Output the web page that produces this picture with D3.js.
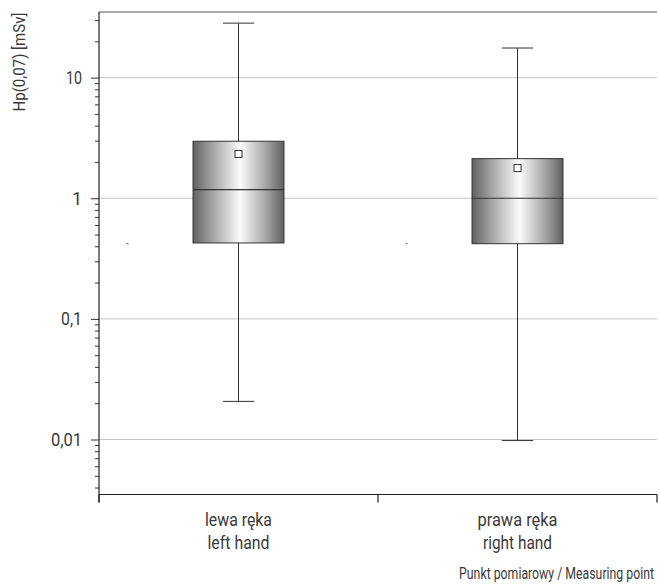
<!DOCTYPE html>
<html><head><meta charset="utf-8">
<script src="https://cdn.jsdelivr.net/npm/d3@7"></script>
<style>
html,body{margin:0;padding:0;background:#fff;}
svg text{font-family:Roboto,"Liberation Sans",sans-serif;font-weight:400;fill:#3a3a3a;}
</style></head>
<body>
<script>
const categories = ["lewa ręka|left hand", "prawa ręka|right hand"];
const whiskerLow  = [0.0207, 0.0098];
const q1          = [0.426, 0.42];
const median      = [1.18, 1.0];
const q3          = [2.97, 2.13];
const whiskerHigh = [28.3, 17.6];
const mean        = [2.33, 1.78];
const sideMarks   = [0.42, 0.42];
const majorTicks  = [0.01, 0.1, 1, 10];
const majorLabels = ["0,01", "0,1", "1", "10"];
const yTitle = "Hp(0,07) [mSv]";
const xTitle = "Punkt pomiarowy / Measuring point";

const W = 659, H = 587;
const L = 99, R = 657, T = 12, B = 494.5;

// text widths of the condensed face in the original (layout only)
const textWidth = {"0,01": 31, "0,1": 21, "10": 16, "lewa ręka": 67, "left hand": 62,
  "prawa ręka": 80, "right hand": 69};

const svg = d3.select("body").append("svg").attr("width", W).attr("height", H);

function condense(sel) {
  sel.each(function () {
    const w = textWidth[this.textContent];
    if (w) d3.select(this).attr("textLength", w).attr("lengthAdjust", "spacingAndGlyphs");
  });
}

const defs = svg.append("defs");
const grad = defs.append("linearGradient").attr("id", "boxGrad").attr("x1", "0").attr("x2", "1").attr("y1", "0").attr("y2", "0");
[[0, "#626262"], [0.2, "#a0a0a0"], [0.52, "#fbfbfb"], [0.8, "#a6a6a6"], [1, "#606060"]].forEach(([o, c]) =>
  grad.append("stop").attr("offset", o).attr("stop-color", c));

const y = d3.scaleLog().domain([0.0035, 35]).range([B, T]);
const x = d3.scaleBand().domain(categories).range([L, R]).padding(0);

const minor = [];
for (let e = -3; e <= 1; e++) for (let m = 2; m <= 9; m++) {
  const v = m * Math.pow(10, e);
  if (v >= 0.0035 && v <= 35) minor.push(v);
}

svg.append("g").selectAll("line").data(majorTicks).join("line")
  .attr("x1", L).attr("x2", R).attr("y1", d => y(d)).attr("y2", d => y(d))
  .attr("stroke", "#c4c4c4").attr("stroke-width", 1);

svg.append("line").attr("x1", L).attr("x2", R).attr("y1", T).attr("y2", T)
  .attr("stroke", "#555").attr("stroke-width", 1.2);

const gMinor = svg.append("g").attr("transform", `translate(${L},0)`)
  .call(d3.axisLeft(y).tickValues(minor).tickSize(4).tickFormat(""));
gMinor.select(".domain").remove();
gMinor.selectAll("line").attr("stroke", "#333");

const gMajor = svg.append("g").attr("transform", `translate(${L},0)`)
  .call(d3.axisLeft(y).tickValues(majorTicks).tickSize(8).tickPadding(9)
    .tickFormat((d, i) => majorLabels[i]));
gMajor.select(".domain").remove();
gMajor.selectAll("line").attr("stroke", "#333");
gMajor.selectAll("text").attr("font-size", 18).attr("fill", "#3a3a3a")
  .attr("font-family", null);
condense(gMajor.selectAll("text"));

svg.append("line").attr("x1", L).attr("x2", L).attr("y1", T).attr("y2", 502.5)
  .attr("stroke", "#222").attr("stroke-width", 1.2);

const xb = d3.axisBottom(x).tickSize(0).tickFormat("");
const gX = svg.append("g").attr("transform", `translate(0,${B})`).call(xb);
gX.select(".domain").attr("d", `M${L},0H${R}`).attr("stroke", "#222").attr("stroke-width", 1.2);
const bounds = [x(categories[0]), x(categories[1]), x(categories[1]) + x.bandwidth()];
gX.selectAll(".bnd").data(bounds).join("line")
  .attr("x1", d => d).attr("x2", d => d).attr("y1", 0).attr("y2", 8)
  .attr("stroke", "#222").attr("stroke-width", 1.2);

categories.forEach((c, i) => {
  const cx = x(c) + x.bandwidth() / 2;
  const parts = c.split("|");
  const g = svg.append("g");
  g.append("text").attr("text-anchor", "middle").attr("font-size", 18.5).attr("x", cx).attr("y", 526).text(parts[0]);
  g.append("text").attr("text-anchor", "middle").attr("font-size", 18.5).attr("x", cx).attr("y", 549).text(parts[1]);
  condense(g.selectAll("text"));
});

const bw = x.bandwidth() * 0.326;
const capW = x.bandwidth() * 0.112;
categories.forEach((c, i) => {
  const cx = x(c) + x.bandwidth() / 2;
  const g = svg.append("g");
  g.append("line").attr("x1", cx).attr("x2", cx).attr("y1", y(whiskerHigh[i])).attr("y2", y(q3[i]))
    .attr("stroke", "#333");
  g.append("line").attr("x1", cx).attr("x2", cx).attr("y1", y(q1[i])).attr("y2", y(whiskerLow[i]))
    .attr("stroke", "#333");
  [whiskerHigh[i], whiskerLow[i]].forEach(v =>
    g.append("line").attr("x1", cx - capW / 2).attr("x2", cx + capW / 2).attr("y1", y(v)).attr("y2", y(v))
      .attr("stroke", "#333"));
  g.append("rect").attr("x", cx - bw / 2).attr("width", bw)
    .attr("y", y(q3[i])).attr("height", y(q1[i]) - y(q3[i]))
    .attr("fill", "url(#boxGrad)").attr("stroke", "#333").attr("stroke-width", 1);
  g.append("line").attr("x1", cx - bw / 2).attr("x2", cx + bw / 2).attr("y1", y(median[i])).attr("y2", y(median[i]))
    .attr("stroke", "#333").attr("stroke-width", 1.2);
  g.append("rect").attr("x", cx - 3.5).attr("y", y(mean[i]) - 3.5).attr("width", 7).attr("height", 7)
    .attr("fill", "#fff").attr("stroke", "#333").attr("stroke-width", 1);
  g.append("line").attr("x1", cx - 112).attr("x2", cx - 110).attr("y1", y(sideMarks[i])).attr("y2", y(sideMarks[i]))
    .attr("stroke", "#555").attr("stroke-width", 1);
});

const yt = svg.append("text").attr("transform", "translate(25,62) rotate(-90)").attr("text-anchor", "middle")
  .attr("font-size", 16.5).text(yTitle);
yt.attr("textLength", 99).attr("lengthAdjust", "spacingAndGlyphs");

const xt = svg.append("text").attr("x", 0).attr("y", 0).attr("text-anchor", "end")
  .attr("font-size", 17).text(xTitle);
const natural = xt.node().getComputedTextLength();
const sx = natural > 0 ? 195 / natural : 1;
xt.attr("transform", `translate(654,579) scale(${sx},1)`);
</script>
</body></html>
